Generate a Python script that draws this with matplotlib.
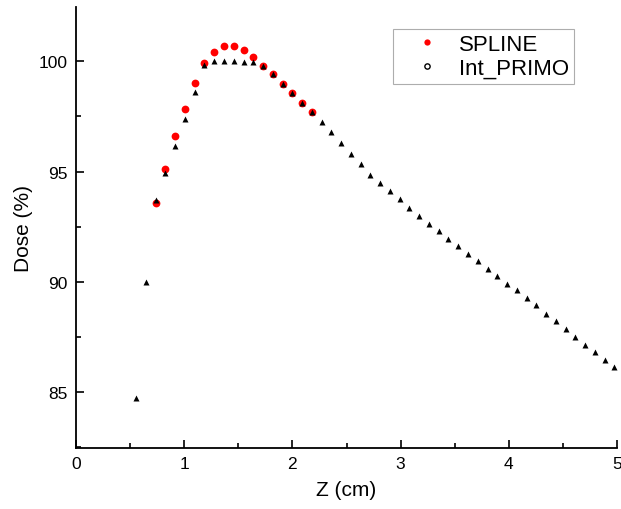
import matplotlib
matplotlib.use("Agg")
import matplotlib.pyplot as plt
from matplotlib.lines import Line2D
from matplotlib.ticker import MultipleLocator

plt.rcParams['font.family'] = ['Liberation Sans', 'DejaVu Sans']

# Int_PRIMO depth dose (triangles)
z_primo = [0.556, 0.646, 0.736, 0.827, 0.917, 1.007, 1.097, 1.187, 1.278, 1.368,
           1.458, 1.548, 1.638, 1.729, 1.819, 1.909, 1.999, 2.089, 2.180, 2.270,
           2.360, 2.450, 2.540, 2.631, 2.721, 2.811, 2.901, 2.991, 3.082, 3.172,
           3.262, 3.352, 3.442, 3.533, 3.623, 3.713, 3.803, 3.893, 3.984, 4.074,
           4.164, 4.254, 4.344, 4.435, 4.525, 4.615, 4.705, 4.795, 4.886, 4.976]
dose_primo = [84.74, 90.00, 93.70, 94.93, 96.15, 97.39, 98.59, 99.83, 100.00, 100.00,
              99.99, 99.98, 99.95, 99.80, 99.41, 98.99, 98.55, 98.11, 97.69, 97.24,
              96.78, 96.28, 95.81, 95.33, 94.86, 94.50, 94.12, 93.75, 93.37, 93.00,
              92.64, 92.30, 91.96, 91.62, 91.27, 90.94, 90.59, 90.26, 89.92, 89.61,
              89.27, 88.93, 88.56, 88.22, 87.86, 87.49, 87.13, 86.80, 86.48, 86.15]

# SPLINE (red dots)
z_spline = [0.736, 0.827, 0.917, 1.007, 1.097, 1.187, 1.278, 1.368, 1.458, 1.548,
            1.638, 1.729, 1.819, 1.909, 1.999, 2.089, 2.180]
dose_spline = [93.58, 95.13, 96.60, 97.85, 99.00, 99.90, 100.41, 100.71, 100.71, 100.50,
               100.19, 99.80, 99.41, 98.99, 98.55, 98.11, 97.69]

fig = plt.figure(figsize=(6.21, 5.10), dpi=100)
ax = fig.add_axes([0.1224, 0.1196, 0.8712, 0.8644])

ax.plot(z_spline, dose_spline, 'o', color='red', ms=5.6, mec='none')
ax.plot(z_primo, dose_primo, '^', color='black', ms=4.2, mec='none')

ax.set_xlim(0, 5)
ax.set_ylim(82.47, 102.45)
ax.xaxis.set_major_locator(MultipleLocator(1))
ax.xaxis.set_minor_locator(MultipleLocator(0.5))
ax.yaxis.set_major_locator(MultipleLocator(5))
ax.yaxis.set_minor_locator(MultipleLocator(2.5))

for s in ['top', 'right']:
    ax.spines[s].set_visible(False)
for s in ['left', 'bottom']:
    ax.spines[s].set_linewidth(1.3)

ax.tick_params(which='major', direction='in', length=6, width=1.2, labelsize=12.5, pad=6)
ax.tick_params(which='minor', direction='in', length=3.5, width=1.2)

ax.set_xlabel('Z (cm)', fontsize=15, labelpad=6)
ax.set_ylabel('Dose (%)', fontsize=15, labelpad=4)

handles = [
    Line2D([], [], ls='none', marker='o', color='red', mec='none', ms=4.5, label='SPLINE'),
    Line2D([], [], ls='none', marker='o', mfc='white', mec='black', mew=1.0, ms=3.8, label='Int_PRIMO'),
]
leg = ax.legend(handles=handles, loc='upper left', bbox_to_anchor=(0.586, 0.950),
                borderaxespad=0, fontsize=16, frameon=True, fancybox=False,
                handletextpad=0.14, borderpad=0.22, labelspacing=0.12, handlelength=2.6)
leg.get_frame().set_edgecolor('#999999')
leg.get_frame().set_linewidth(0.8)

fig.savefig('out.png', dpi=100)
